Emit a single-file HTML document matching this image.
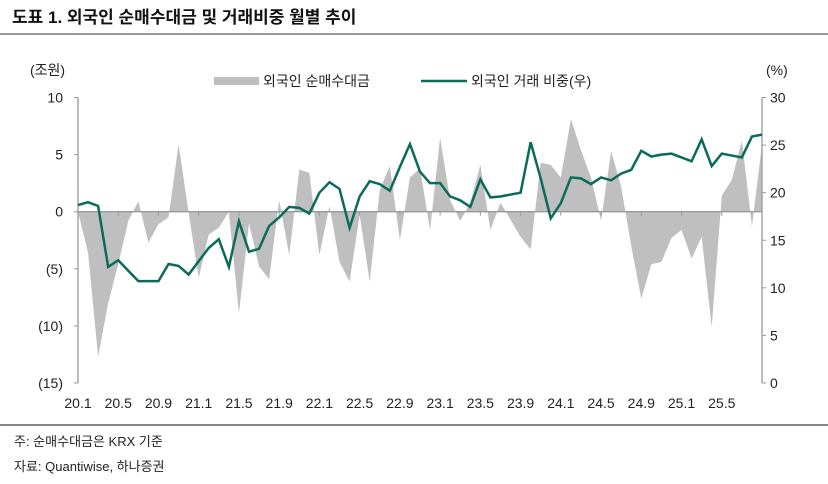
<!DOCTYPE html>
<html><head><meta charset="utf-8">
<style>
body{margin:0;width:828px;height:479px;background:#fff;overflow:hidden;font-family:"Liberation Sans","Noto Sans CJK KR",sans-serif;}
svg text{font-family:"Liberation Sans","Noto Sans CJK KR",sans-serif;}
</style></head>
<body>
<svg id="c" width="828" height="479" xmlns="http://www.w3.org/2000/svg">
<text x="12" y="23" font-size="17" font-weight="bold" fill="#111">도표 1. 외국인 순매수대금 및 거래비중 월별 추이</text>
<rect x="0" y="33" width="828" height="2" fill="#999"/>
<rect x="0" y="424" width="828" height="2" fill="#888"/>
<text x="14" y="446" font-size="13" fill="#222">주: 순매수대금은 KRX 기준</text>
<text x="14" y="471" font-size="13" fill="#222">자료: Quantiwise, 하나증권</text>
<text x="30" y="75" font-size="14" fill="#222">(조원)</text>
<text x="766" y="75" font-size="14" fill="#222">(%)</text>
<rect x="214" y="77" width="45" height="8" fill="#bfbfbf"/>
<text x="263" y="86" font-size="14" fill="#222">외국인 순매수대금</text>
<line x1="421" y1="81" x2="467" y2="81" stroke="#0b6b5b" stroke-width="2.5"/>
<text x="471" y="86" font-size="14" fill="#222">외국인 거래 비중(우)</text>
<g id="plot"></g>
</svg>
<script>
const months = ["20.1","20.2","20.3","20.4","20.5","20.6","20.7","20.8","20.9","20.10","20.11","20.12","21.1","21.2","21.3","21.4","21.5","21.6","21.7","21.8","21.9","21.10","21.11","21.12","22.1","22.2","22.3","22.4","22.5","22.6","22.7","22.8","22.9","22.10","22.11","22.12","23.1","23.2","23.3","23.4","23.5","23.6","23.7","23.8","23.9","23.10","23.11","23.12","24.1","24.2","24.3","24.4","24.5","24.6","24.7","24.8","24.9","24.10","24.11","24.12","25.1","25.2","25.3","25.4","25.5","25.6","25.7","25.8","25.9"];
const netBuy = [0,-3.6,-12.7,-8.0,-4.6,-0.8,0.9,-2.7,-1.1,-0.5,5.9,-0.1,-5.8,-2.0,-1.4,0.0,-8.9,-1.0,-4.8,-5.9,1.0,-3.8,3.7,3.4,-3.8,0.5,-4.4,-6.1,-0.3,-6.1,1.9,4.0,-2.5,3.0,3.8,-1.6,6.5,1.0,-0.8,0.8,4.1,-1.6,0.8,-0.7,-2.2,-3.3,4.3,4.1,3.0,8.1,5.4,3.0,-0.8,5.3,2.2,-3.0,-7.6,-4.6,-4.4,-2.3,-1.6,-4.1,-2.2,-10.1,1.4,2.8,6.2,-1.3,5.9];
const share = [18.7,19.0,18.6,12.2,12.9,11.8,10.7,10.7,10.7,12.5,12.3,11.4,12.8,14.2,15.1,12.2,17.0,13.8,14.1,16.5,17.4,18.5,18.4,17.8,20.0,21.1,20.4,16.3,19.6,21.2,20.9,20.2,22.7,25.1,22.2,21.0,21.0,19.6,19.2,18.5,21.4,19.5,19.6,19.8,20.0,25.3,21.5,17.3,18.9,21.6,21.5,20.9,21.6,21.3,22.0,22.4,24.4,23.8,24.0,24.1,23.7,23.3,25.6,22.8,24.1,23.9,23.7,25.9,26.1];
const leftTicks = [10,5,0,-5,-10,-15];
const leftTickLabels = ["10","5","0","(5)","(10)","(15)"];
const rightTicks = [30,25,20,15,10,5,0];
const xLabelIdx = [0,4,8,12,16,20,24,28,32,36,40,44,48,52,56,60,64];

const X0=78, X1=762, YT=97.5, YB=383;
const x = i => X0 + i*(X1-X0)/(months.length-1);
const yL = v => YT + (10-v)*(YB-YT)/25;
const yR = v => YT + (30-v)*(YB-YT)/30;
const NS="http://www.w3.org/2000/svg";
const g=document.getElementById('plot');
function mk(tag,attrs){const e=document.createElementNS(NS,tag);for(const k in attrs)e.setAttribute(k,attrs[k]);g.appendChild(e);return e;}

// area
let d=`M${x(0)},${yL(0)}`;
netBuy.forEach((v,i)=>{d+=` L${x(i)},${yL(v)}`;});
d+=` L${x(netBuy.length-1)},${yL(0)} Z`;
const area=mk('path',{d:d,fill:'#bfbfbf'});



// zero line
const zl=mk('line',{x1:X0,x2:X1,y1:yL(0),y2:yL(0),stroke:'#999','stroke-width':1.3});


xLabelIdx.forEach(i=>{
  const t=mk('line',{x1:x(i),x2:x(i),y1:yL(0),y2:yL(0)+4,stroke:'#999','stroke-width':1});
  
  
  const lb=mk('text',{x:x(i),y:408,'font-size':14,fill:'#222','text-anchor':'middle'});
  lb.textContent=months[i];
  
  
});

// left axis
const la=mk('line',{x1:X0,x2:X0,y1:YT,y2:YB,stroke:'#999','stroke-width':1.3});


leftTicks.forEach((v,k)=>{
  const t=mk('line',{x1:X0-4,x2:X0,y1:yL(v),y2:yL(v),stroke:'#999','stroke-width':1});
  
  
  const lb=mk('text',{x:63,y:yL(v)+5,'font-size':14,fill:'#222','text-anchor':'end'});
  lb.textContent=leftTickLabels[k];
  
  
});
// right axis
const ra=mk('line',{x1:X1,x2:X1,y1:YT,y2:YB,stroke:'#999','stroke-width':1.3});


rightTicks.forEach(v=>{
  const t=mk('line',{x1:X1,x2:X1+4,y1:yR(v),y2:yR(v),stroke:'#999','stroke-width':1});
  
  
  const lb=mk('text',{x:770,y:yR(v)+5,'font-size':14,fill:'#222'});
  lb.textContent=String(v);
  
  
});

// line
const pts=share.map((v,i)=>`${x(i)},${yR(v)}`).join(' ');
const ln=mk('polyline',{points:pts,fill:'none',stroke:'#0b6b5b','stroke-width':2.5,'stroke-linejoin':'miter'});


</script>
</body></html>
